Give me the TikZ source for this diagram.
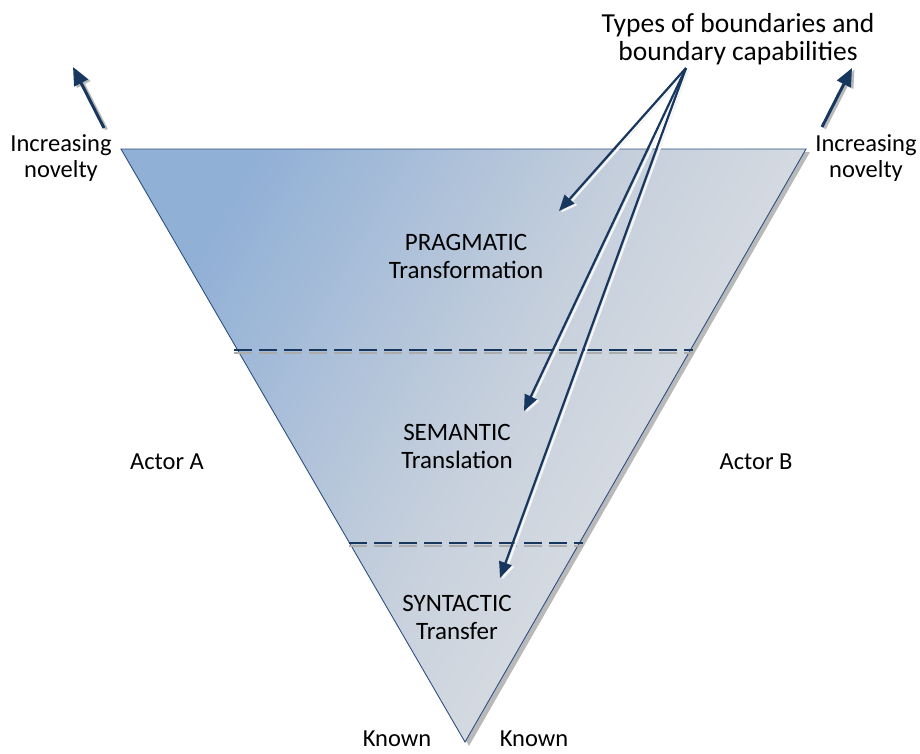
\documentclass[tikz,border=0pt]{standalone}
\usepackage{fontspec}
\setmainfont{Carlito}
\usetikzlibrary{arrows.meta}
\definecolor{navy}{RGB}{23,55,94}
\definecolor{edgeblue}{RGB}{45,80,130}
\definecolor{topblue}{RGB}{145,176,214}
\definecolor{midgrey}{RGB}{197,207,220}
\definecolor{lightgrey}{RGB}{230,230,230}
\begin{document}
\begin{tikzpicture}[x=1pt,y=-1pt,
  lbl/.style={font=\fontsize{25}{28}\selectfont, align=center, text=black, inner sep=0pt},
  biglbl/.style={font=\fontsize{27.5}{27.6}\selectfont, align=center, text=black, inner sep=0pt},
  sidelbl/.style={font=\fontsize{24.5}{26}\selectfont, align=center, text=black, inner sep=0pt},
  callout/.style={draw=navy, line width=2.2pt, -{Triangle[length=16pt,width=13pt]}},
  calloutshadow/.style={draw=white!92!gray, line width=2.2pt, -{Triangle[length=16pt,width=13pt]}, transform canvas={shift={(2.5,1.5)}}},
  novel/.style={draw=navy, line width=3pt, -{Triangle[length=18pt,width=15pt]}},
  novelshadow/.style={draw=gray!55, line width=3pt, -{Triangle[length=18pt,width=15pt]}, transform canvas={shift={(2.5,1.5)}}},
  divider/.style={draw=navy, line width=2pt, dash pattern=on 18pt off 7pt},
  dividershadow/.style={draw=gray!65, line width=2pt, dash pattern=on 18pt off 7pt}]
\useasboundingbox (0,0) rectangle (920,753);
% triangle
\coordinate (TL) at (121,149);
\coordinate (TR) at (806,149);
\coordinate (B) at (465,742);
\fill[gray!55] (124,152) -- (810,152) -- (469,746) -- cycle;
\shade[left color=topblue, right color=lightgrey, middle color=midgrey, shading angle=60] (TL) -- (TR) -- (B) -- cycle;
\draw[edgeblue, line width=0.9pt] (TL) -- (TR) -- (B) -- cycle;
% dividers
\coordinate (d1l) at (234,350);
\coordinate (d1r) at (693,350);
\coordinate (d2l) at (349,543);
\coordinate (d2r) at (583,543);
\draw[dividershadow, transform canvas={shift={(0,3)}}] (d1l) -- (d1r);
\draw[divider] (d1l) -- (d1r);
\draw[dividershadow, transform canvas={shift={(0,3)}}] (d2l) -- (d2r);
\draw[divider] (d2l) -- (d2r);
% labels
\node[biglbl] (types) at (738,39) {Types of boundaries and\\boundary capabilities};
\node[sidelbl] (incL) at (61,158) {Increasing\\novelty};
\node[sidelbl] (incR) at (866,158) {Increasing\\novelty};
\node[lbl] (prag) at (466,256) {PRAGMATIC\\Transformation};
\node[lbl] (sem) at (457,446) {SEMANTIC\\Translation};
\node[lbl] (syn) at (457,617) {SYNTACTIC\\Transfer};
\node[sidelbl] (actA) at (167,462) {Actor A};
\node[sidelbl] (actB) at (756,462) {Actor B};
\node[sidelbl, anchor=base] (knownL) at (397,746) {Known};
\node[sidelbl, anchor=base] (knownR) at (534,746) {Known};
% arrow end points
\coordinate (src) at (686,68);
\coordinate (pragtip) at (559,211);
\coordinate (semtip) at (524,411);
\coordinate (syntip) at (500,578);
\coordinate (nlTail) at (104,128);
\coordinate (nlTip) at (73,67);
\coordinate (nrTail) at (822,127);
\coordinate (nrTip) at (852,68);
% shadows
\draw[calloutshadow] (src) -- (pragtip);
\draw[calloutshadow] (src) -- (semtip);
\draw[calloutshadow] (src) -- (syntip);
\draw[novelshadow] (nlTail) -- (nlTip);
\draw[novelshadow] (nrTail) -- (nrTip);
% arrows
\draw[callout] (src) -- (pragtip);
\draw[callout] (src) -- (semtip);
\draw[callout] (src) -- (syntip);
\draw[novel] (nlTail) -- (nlTip);
\draw[novel] (nrTail) -- (nrTip);
\end{tikzpicture}
\end{document}
